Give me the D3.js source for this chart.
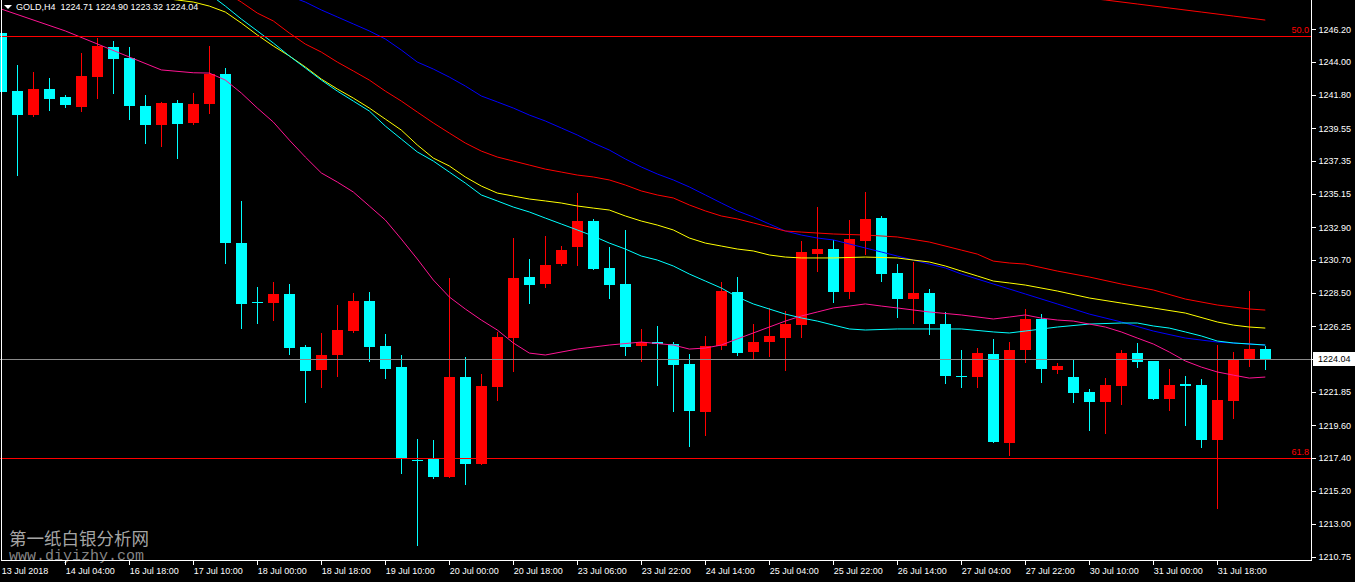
<!DOCTYPE html>
<html><head><meta charset="utf-8">
<script src="https://cdn.jsdelivr.net/npm/d3@7"></script>
<style>html,body{margin:0;padding:0;background:#000;overflow:hidden}</style>
</head><body><svg id="c" width="1355" height="582"></svg>
<script>
// ---------- DATA ----------
const symbolTitle = "GOLD,H4";
const lastQuote = ["1224.71", "1224.90", "1223.32", "1224.04"];

const open = [
1245.93,1242.05,1240.44,1242.19,1241.65,1241.00,1243.02,1245.01,1244.27,1241.05,
1239.77,1241.25,1239.90,1241.18,1243.20,1231.84,1227.88,1227.81,1228.42,1224.86,
1223.31,1224.32,1225.93,1227.95,1224.92,1223.51,1217.30,1217.33,1216.13,1222.84,
1217.00,1222.17,1225.46,1229.56,1229.09,1230.43,1231.58,1233.32,1230.17,1229.09,
1224.92,1225.19,1225.06,1223.71,1220.49,1224.92,1228.55,1224.52,1225.19,1225.46,
1226.34,1231.11,1231.44,1228.55,1231.98,1233.52,1229.83,1228.08,1228.49,1226.40,
1222.94,1222.84,1224.39,1218.41,1224.66,1226.74,1223.31,1222.84,1221.83,1221.17,
1222.24,1224.45,1223.92,1221.36,1222.34,1222.31,1218.61,1221.23,1223.98,1224.71];
const high = [
1246.09,1243.80,1243.33,1242.93,1241.79,1244.61,1245.62,1245.41,1245.01,1241.79,
1241.32,1241.45,1241.92,1245.08,1243.60,1234.67,1228.89,1229.22,1229.09,1224.99,
1225.80,1227.68,1228.49,1228.55,1225.73,1224.32,1218.68,1218.61,1229.49,1224.19,
1223.04,1225.87,1232.18,1230.77,1232.31,1231.64,1235.20,1233.46,1231.58,1232.72,
1226.07,1226.27,1225.19,1224.39,1225.60,1229.22,1229.56,1226.40,1227.48,1227.28,
1231.98,1234.26,1232.05,1233.39,1235.27,1233.66,1230.43,1230.57,1228.75,1227.21,
1224.66,1224.79,1225.40,1225.19,1227.41,1227.07,1223.78,1224.05,1222.04,1222.78,
1224.66,1225.13,1223.92,1223.38,1222.91,1222.71,1224.99,1224.52,1228.62,1224.90];
const low = [
1239.23,1236.37,1240.33,1240.73,1240.93,1240.66,1241.52,1241.85,1240.11,1238.49,
1238.29,1237.49,1239.77,1240.51,1230.43,1226.07,1226.40,1226.60,1224.32,1221.10,
1222.10,1222.84,1225.80,1223.85,1222.71,1216.33,1211.49,1215.99,1216.06,1215.59,
1216.93,1221.23,1223.18,1227.75,1228.82,1230.30,1230.30,1230.03,1228.08,1224.25,
1223.85,1222.24,1220.49,1218.14,1218.88,1224.66,1224.25,1223.98,1224.19,1223.25,
1225.46,1229.90,1227.81,1228.08,1231.04,1229.22,1226.81,1226.40,1225.66,1222.37,
1222.10,1222.10,1218.41,1217.54,1223.78,1222.44,1223.04,1221.10,1219.21,1219.01,
1220.96,1223.45,1221.30,1220.56,1219.55,1218.07,1213.98,1220.02,1223.51,1223.32];
const close = [
1242.01,1240.44,1242.19,1241.52,1241.11,1243.06,1245.08,1244.21,1241.05,1239.77,
1241.25,1239.84,1241.18,1243.20,1231.84,1227.75,1227.86,1228.42,1224.79,1223.25,
1224.32,1226.00,1227.95,1224.86,1223.38,1217.33,1217.23,1216.13,1222.84,1217.00,
1222.24,1225.53,1229.49,1229.02,1230.37,1231.37,1233.32,1230.10,1229.02,1224.86,
1225.19,1225.08,1223.65,1220.56,1224.92,1228.62,1224.45,1225.19,1225.60,1226.40,
1231.24,1231.44,1228.55,1232.11,1233.46,1229.76,1228.08,1228.49,1226.40,1222.91,
1222.88,1224.45,1218.48,1224.66,1226.74,1223.38,1223.58,1221.77,1221.17,1222.31,
1224.45,1223.85,1221.36,1222.31,1222.27,1218.61,1221.30,1224.05,1224.71,1224.04];

// moving averages: [bar index, price]
const maPink = [[0,1247.56],[4,1246.09],[8,1244.34],[10,1243.47],[12,1243.28],[13,1243.26],[14,1242.79],[15,1241.92],[16,1240.91],[17,1239.97],[18,1238.76],[19,1237.62],[20,1236.55],[21,1235.94],[22,1235.27],[23,1234.33],[24,1233.39],[25,1232.11],[26,1230.77],[27,1229.36],[28,1228.22],[29,1227.41],[30,1226.67],[31,1226.00],[32,1225.13],[33,1224.45],[34,1224.32],[36,1224.72],[38,1224.99],[40,1225.19],[42,1224.99],[43,1224.72],[44,1224.79],[45,1224.99],[46,1225.40],[47,1225.80],[48,1226.20],[49,1226.60],[50,1226.94],[51,1227.21],[52,1227.48],[53,1227.61],[54,1227.75],[55,1227.61],[56,1227.48],[58,1227.21],[60,1227.01],[62,1226.74],[63,1226.87],[64,1227.01],[65,1226.80],[66,1226.67],[67,1226.60],[68,1226.40],[69,1226.20],[70,1225.87],[71,1225.46],[72,1225.06],[73,1224.52],[74,1223.92],[75,1223.51],[76,1223.18],[77,1222.97],[78,1222.77],[79,1222.84]];
const maCyan = [[12,1249.38],[13,1248.57],[14,1247.76],[15,1246.89],[16,1246.09],[17,1245.28],[18,1244.41],[19,1243.60],[20,1242.79],[21,1242.05],[22,1241.38],[23,1240.71],[24,1239.70],[25,1238.83],[26,1237.96],[27,1237.35],[28,1236.61],[29,1235.87],[30,1235.07],[31,1234.67],[32,1234.26],[33,1233.93],[34,1233.52],[35,1233.12],[36,1232.72],[37,1232.31],[38,1231.84],[39,1231.44],[40,1230.97],[41,1230.70],[42,1230.30],[43,1229.76],[44,1229.29],[45,1228.82],[46,1228.22],[47,1227.75],[48,1227.41],[49,1227.07],[50,1226.81],[51,1226.60],[52,1226.33],[53,1226.07],[54,1226.00],[56,1226.07],[58,1226.07],[60,1226.07],[62,1225.87],[63,1225.80],[64,1225.93],[66,1226.20],[68,1226.40],[70,1226.47],[71,1226.47],[72,1226.27],[73,1226.13],[74,1225.87],[75,1225.60],[76,1225.26],[77,1225.13],[78,1225.06],[79,1224.99]];
const maYellow = [[10,1248.30],[11,1248.17],[12,1248.03],[13,1247.76],[14,1247.36],[15,1246.62],[16,1245.82],[17,1245.08],[18,1244.41],[19,1243.67],[20,1242.86],[21,1242.19],[22,1241.58],[23,1240.91],[24,1240.17],[25,1239.43],[26,1238.43],[27,1237.55],[28,1237.02],[29,1236.28],[30,1235.67],[31,1235.20],[32,1235.00],[33,1234.80],[34,1234.67],[35,1234.53],[36,1234.33],[37,1234.19],[38,1234.06],[39,1233.66],[40,1233.32],[41,1233.05],[42,1232.72],[43,1232.18],[44,1231.84],[45,1231.64],[46,1231.44],[47,1231.31],[48,1231.04],[49,1230.90],[50,1230.84],[52,1230.84],[54,1230.90],[56,1230.84],[57,1230.70],[58,1230.57],[59,1230.30],[60,1229.96],[61,1229.63],[62,1229.29],[63,1229.16],[64,1229.02],[66,1228.62],[68,1228.15],[70,1227.81],[72,1227.48],[74,1227.14],[76,1226.54],[77,1226.33],[78,1226.20],[79,1226.13]];
const maRed = [[14,1248.70],[15,1248.03],[16,1247.29],[17,1246.76],[18,1245.95],[19,1245.21],[20,1244.67],[21,1244.00],[22,1243.40],[23,1242.79],[24,1242.05],[25,1241.38],[26,1240.64],[27,1239.91],[28,1239.23],[29,1238.56],[30,1238.02],[31,1237.62],[32,1237.35],[33,1237.08],[34,1236.81],[35,1236.61],[36,1236.41],[37,1236.28],[38,1236.08],[39,1235.74],[40,1235.34],[41,1235.07],[42,1234.87],[43,1234.40],[44,1234.00],[45,1233.66],[46,1233.46],[47,1233.19],[48,1232.92],[49,1232.65],[50,1232.58],[52,1232.45],[54,1232.38],[56,1232.25],[58,1231.91],[60,1231.37],[61,1231.10],[62,1230.63],[63,1230.50],[64,1230.43],[66,1229.96],[68,1229.56],[70,1229.09],[72,1228.69],[74,1228.08],[76,1227.68],[78,1227.41],[79,1227.34]];
const maBlue = [[17,1248.97],[18,1248.44],[19,1248.03],[20,1247.50],[21,1247.03],[22,1246.56],[23,1246.09],[24,1245.55],[25,1244.81],[26,1244.00],[27,1243.53],[28,1242.99],[29,1242.39],[30,1241.72],[31,1241.32],[32,1240.91],[33,1240.44],[34,1240.04],[35,1239.57],[36,1239.10],[37,1238.56],[38,1238.09],[39,1237.49],[40,1236.95],[41,1236.48],[42,1236.08],[43,1235.61],[44,1235.07],[45,1234.53],[46,1234.00],[47,1233.59],[48,1233.12],[49,1232.65],[50,1232.38],[51,1232.18],[52,1232.05],[53,1231.78],[54,1231.51],[55,1231.24],[56,1230.97],[57,1230.70],[58,1230.43],[59,1230.17],[60,1229.76],[62,1229.09],[64,1228.42],[66,1227.75],[68,1227.07],[70,1226.54],[72,1225.93],[74,1225.46],[76,1225.19],[78,1225.06],[79,1224.99]];
const maSlowRed = [[67,1248.40],[69,1248.17],[71,1247.90],[73,1247.63],[75,1247.36],[77,1247.09],[79,1246.82]];

const xTickBars = [0,4,8,12,16,20,24,28,32,36,40,44,48,52,56,60,64,68,72,76];
const xTickLabels = ["13 Jul 2018","14 Jul 04:00","16 Jul 18:00","17 Jul 10:00","18 Jul 00:00","18 Jul 18:00","19 Jul 10:00","20 Jul 00:00","20 Jul 18:00","23 Jul 06:00","23 Jul 22:00","24 Jul 14:00","25 Jul 04:00","25 Jul 22:00","26 Jul 14:00","27 Jul 04:00","27 Jul 22:00","30 Jul 10:00","31 Jul 00:00","31 Jul 18:00"];
const priceTickLabels = ["1246.20","1244.00","1241.80","1239.55","1237.35","1235.15","1232.90","1230.70","1228.50","1226.25","1221.85","1219.60","1217.40","1215.20","1213.00","1210.75"];
const fiboLabels = ["50.0", "61.8"];
const fiboValues = [1245.75, 1217.40];
const bidPrice = 1224.04;
const watermarkCN = "第一纸白银分析网";
const watermarkURL = "www.diyizhy.com";

// ---------- DRAW ----------
const W = 1355, H = 582;
const plotR = 1311, plotB = 560;
const svg = d3.select("#c");
svg.append("rect").attr("width", W).attr("height", H).attr("fill", "#000");

const x = d3.scaleLinear().domain([0, 79]).range([1.3, 1265.3]);
const y = d3.scaleLinear().domain([1210.55, 1248.168]).range([plotB, 0]);

svg.append("defs").append("clipPath").attr("id", "plot")
  .append("rect").attr("x", 0).attr("y", 0).attr("width", plotR).attr("height", plotB);

// watermark (behind everything)
svg.append("text").attr("x", 9).attr("y", 545).attr("fill", "#c4c4c4").attr("fill-opacity", 0.85)
  .attr("font-family", "Noto Sans CJK SC, sans-serif").attr("font-size", 17.5).text(watermarkCN);
svg.append("text").attr("x", 9).attr("y", 560).attr("fill", "#a8a8a8").attr("fill-opacity", 0.8)
  .attr("font-family", "Liberation Mono, monospace").attr("font-size", 15).text(watermarkURL);

const plot = svg.append("g").attr("clip-path", "url(#plot)");
const bars = d3.range(open.length);
const col = i => close[i] > open[i] ? "#ff0000" : "#00ffff";

// wicks
plot.append("g").attr("shape-rendering", "crispEdges").selectAll("rect").data(bars).join("rect")
  .attr("x", i => Math.round(x(i)))
  .attr("width", 1)
  .attr("y", i => Math.round(y(high[i])))
  .attr("height", i => Math.max(1, Math.round(y(low[i])) - Math.round(y(high[i]))))
  .attr("fill", col);
// bodies
plot.append("g").attr("shape-rendering", "crispEdges").selectAll("rect").data(bars).join("rect")
  .attr("x", i => Math.round(x(i)) - 5)
  .attr("width", 11)
  .attr("y", i => Math.round(y(Math.max(open[i], close[i]))))
  .attr("height", i => Math.max(1, Math.round(y(Math.min(open[i], close[i]))) - Math.round(y(Math.max(open[i], close[i])))))
  .attr("fill", col);

// moving averages
const line = d3.line().x(d => x(d[0])).y(d => y(d[1]));
[[maSlowRed, "#ff0000"], [maBlue, "#0000ff"], [maRed, "#ff0000"], [maYellow, "#ffff00"], [maCyan, "#00ffff"], [maPink, "#ff1493"]]
  .forEach(([d, c]) => {
    plot.append("path").attr("d", line(d)).attr("fill", "none").attr("stroke", c).attr("stroke-width", 1);
  });

const font = "Liberation Sans, Arial, sans-serif";
const fs = 9;

// fibo levels
const gFib = svg.append("g");
fiboValues.forEach((v, i) => {
  gFib.append("line").attr("x1", 0).attr("x2", plotR).attr("y1", Math.round(y(v)) + 0.5).attr("y2", Math.round(y(v)) + 0.5)
    .attr("stroke", "#ff0000").attr("stroke-width", 1);
  gFib.append("text").attr("x", 1309).attr("y", Math.round(y(v)) - 3).attr("text-anchor", "end")
    .attr("fill", "#ff0000").attr("font-family", font).attr("font-size", fs)
    .text(fiboLabels[i]);
});

// bid line
svg.append("line").attr("x1", 0).attr("x2", plotR).attr("y1", Math.round(y(bidPrice)) + 0.5).attr("y2", Math.round(y(bidPrice)) + 0.5)
  .attr("stroke", "#8a8a8a").attr("stroke-width", 1);

// frame
const frame = svg.append("g").attr("stroke", "#fff").attr("stroke-width", 1).attr("shape-rendering", "crispEdges");
frame.append("line").attr("x1", 1.5).attr("x2", 1.5).attr("y1", 0).attr("y2", plotB + 0.5);
frame.append("line").attr("x1", 1).attr("x2", plotR + 0.5).attr("y1", plotB + 0.5).attr("y2", plotB + 0.5);
frame.append("line").attr("x1", plotR + 0.5).attr("x2", plotR + 0.5).attr("y1", 0).attr("y2", plotB + 0.5);

// y axis
const yAxis = d3.axisRight(y).tickValues(priceTickLabels.map(Number)).tickSize(4).tickPadding(3)
  .tickFormat((d, i) => priceTickLabels[i]);
const ya = svg.append("g").attr("transform", `translate(${plotR + 0.5},0)`).call(yAxis);
ya.select(".domain").remove();
ya.selectAll("line").attr("stroke", "#fff").attr("shape-rendering", "crispEdges");
ya.selectAll("text").attr("fill", "#fff").attr("font-family", font).attr("font-size", fs);

// bid label
const by = Math.round(y(bidPrice));
svg.append("rect").attr("x", 1313).attr("y", by - 7).attr("width", 42).attr("height", 14).attr("fill", "#fff");
svg.append("line").attr("x1", plotR).attr("x2", plotR + 4).attr("y1", by + 0.5).attr("y2", by + 0.5).attr("stroke", "#fff");
svg.append("text").attr("x", 1318).attr("y", by).attr("dy", "0.32em").attr("fill", "#000")
  .attr("font-family", font).attr("font-size", fs).text(lastQuote[3]);

// x axis
const xAxis = d3.axisBottom(x).tickValues(xTickBars).tickSize(4).tickPadding(3)
  .tickFormat((d, i) => xTickLabels[i]);
const xa = svg.append("g").attr("transform", `translate(0,${plotB + 0.5})`).call(xAxis);
xa.select(".domain").remove();
xa.selectAll("line").attr("stroke", "#fff").attr("shape-rendering", "crispEdges")
  .attr("transform", d => `translate(${Math.round(x(d)) - x(d)},0)`);
xa.selectAll("text").attr("fill", "#fff").attr("font-family", font).attr("font-size", fs)
  .attr("text-anchor", "start").attr("x", 0);
xa.selectAll(".tick").filter(d => d === 0).select("line").remove();

// title
svg.append("path").attr("d", "M4,5 L12,5 L8,9 Z").attr("fill", "#fff");
svg.append("text").attr("x", 16).attr("y", 10).attr("fill", "#fff").attr("font-family", font).attr("font-size", fs)
  .attr("xml:space", "preserve")
  .text(symbolTitle + "  " + lastQuote.join(" "));
</script></body></html>
